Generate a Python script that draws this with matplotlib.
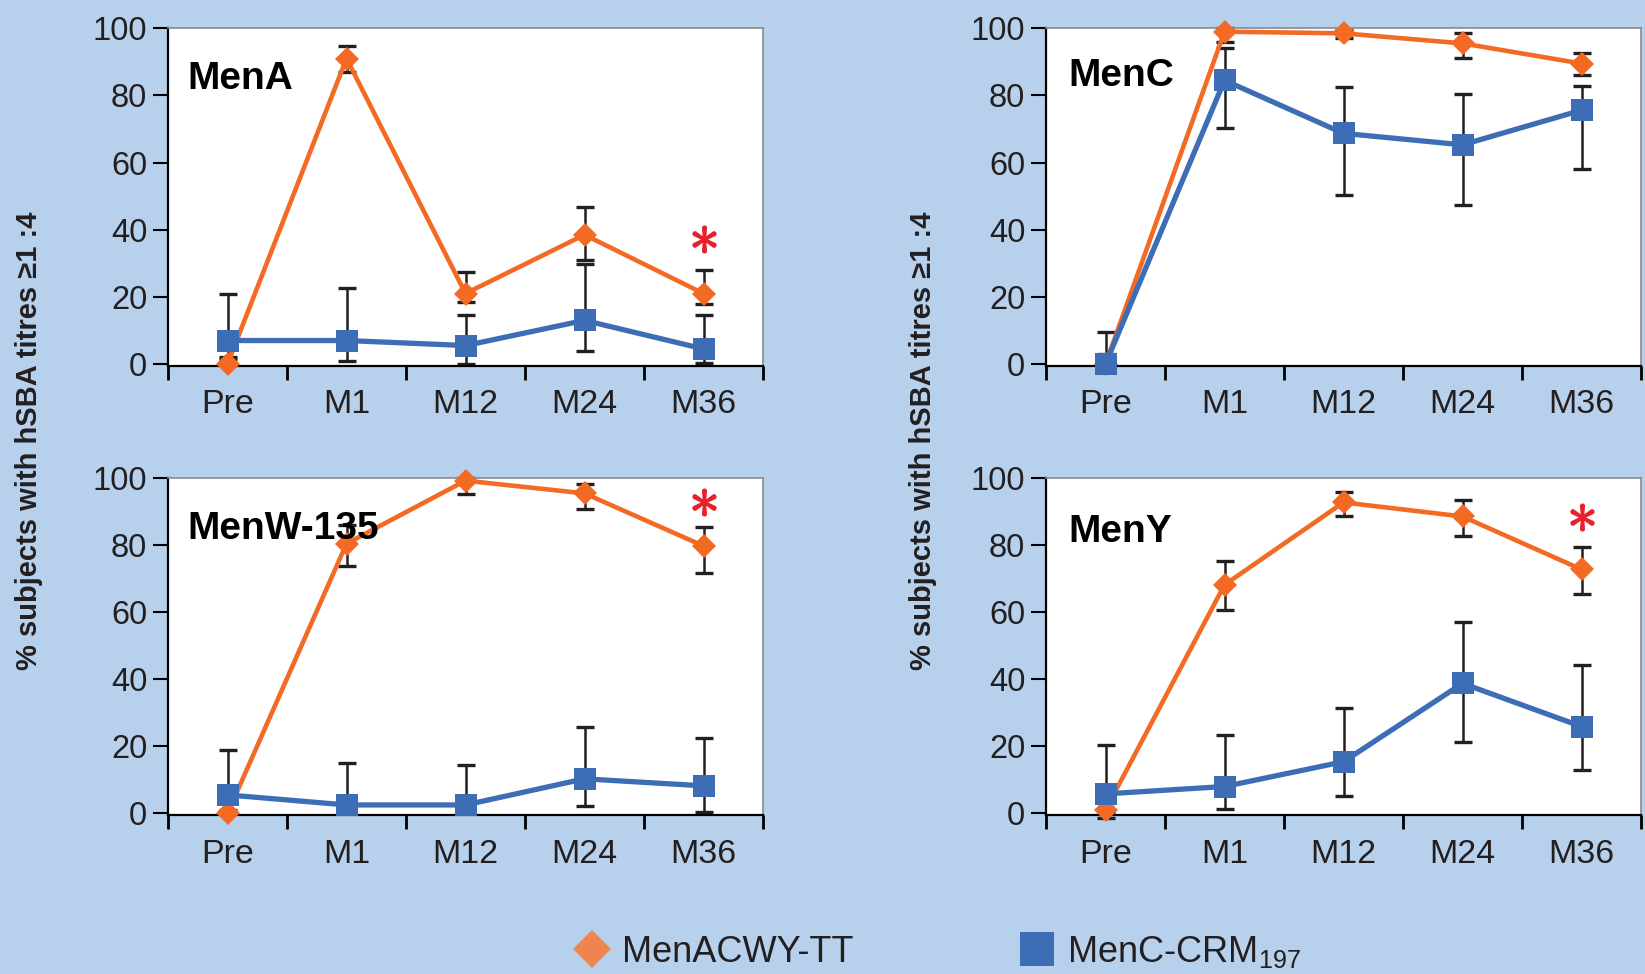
import matplotlib
matplotlib.use("Agg")
import matplotlib.pyplot as plt
from matplotlib.lines import Line2D
import numpy as np

plt.rcParams['font.family'] = ['Liberation Sans', 'DejaVu Sans']
plt.rcParams['mathtext.fontset'] = 'custom'
plt.rcParams['mathtext.rm'] = 'Liberation Sans'
plt.rcParams['mathtext.it'] = 'Liberation Sans:italic'
plt.rcParams['mathtext.bf'] = 'Liberation Sans:bold'

# ---------------- data ----------------
categories = ['Pre', 'M1', 'M12', 'M24', 'M36']
panel_names = ['MenA', 'MenC', 'MenW-135', 'MenY']

# MenACWY-TT (orange)
tt_A = [0, 91, 21, 38.5, 21]
tt_A_lo = [0, 87, 18.5, 31, 18]
tt_A_hi = [1.5, 94.7, 27.5, 46.7, 28]
tt_C = [0, 99, 98.5, 95.5, 89.5]
tt_C_lo = [0, 96, 97, 91.3, 86]
tt_C_hi = [3, 100, 99.5, 98.5, 92.7]
tt_W = [0, 80.5, 99.3, 95.5, 79.8]
tt_W_lo = [0, 73.8, 95.3, 90.7, 71.8]
tt_W_hi = [1, 86, 100, 98.3, 85.4]
tt_Y = [1, 68.2, 92.8, 88.6, 72.8]
tt_Y_lo = [-1.3, 60.7, 88.8, 82.9, 65.5]
tt_Y_hi = [3, 75.4, 95.8, 93.5, 79.4]

# MenC-CRM197 (blue)
crm_A = [7, 7, 5.5, 13, 4.5]
crm_A_lo = [2, 1, 0, 4, 0.3]
crm_A_hi = [21, 22.5, 14.5, 29.7, 14.5]
crm_C = [0, 84.5, 68.7, 65.3, 75.6]
crm_C_lo = [0, 70.3, 50.4, 47.5, 58]
crm_C_hi = [9.5, 94, 82.6, 80.3, 82.8]
crm_W = [5.5, 2.5, 2.5, 10.3, 8.2]
crm_W_lo = [0, 0, 0, 2.2, 0.5]
crm_W_hi = [18.9, 15, 14.3, 25.9, 22.4]
crm_Y = [5.8, 8, 15.4, 38.8, 25.9]
crm_Y_lo = [0, 1.2, 5.2, 21.4, 12.9]
crm_Y_hi = [20.4, 23.4, 31.5, 57.2, 44.3]

# significance star (category index, y value) per panel; None = no star
stars = [(4, 37.2), None, (4, 93), (4, 88.5)]

yticks = [0, 20, 40, 60, 80, 100]
ylabel = '% subjects with hSBA titres \u22651 :4'
legend_labels = ['MenACWY-TT', 'MenC-CRM$_{\\mathregular{197}}$']

tt_series = [(tt_A, tt_A_lo, tt_A_hi), (tt_C, tt_C_lo, tt_C_hi),
             (tt_W, tt_W_lo, tt_W_hi), (tt_Y, tt_Y_lo, tt_Y_hi)]
crm_series = [(crm_A, crm_A_lo, crm_A_hi), (crm_C, crm_C_lo, crm_C_hi),
              (crm_W, crm_W_lo, crm_W_hi), (crm_Y, crm_Y_lo, crm_Y_hi)]

# ---------------- style ----------------
BG = '#B7D1EC'
ORANGE = '#F26A24'
ORANGE_LEG = '#EE8550'
BLUE = '#3D6DB5'
INK = '#231F20'
RED = '#E8202A'

W, H = 1645, 974
fig = plt.figure(figsize=(W / 100, H / 100), dpi=100, facecolor=BG)

def px_rect(left, top, right, bottom):
    return [left / W, 1 - bottom / H, (right - left) / W, (bottom - top) / H]

rects = [px_rect(168, 28.3, 763, 365.7),
         px_rect(1046, 28.3, 1641, 365.7),
         px_rect(168, 478.3, 763, 815.0),
         px_rect(1046, 478.3, 1641, 815.0)]

label_pos = [(0.032, 0.85), (0.038, 0.86), (0.032, 0.85), (0.038, 0.84)]

x = np.arange(len(categories))

for i, rect in enumerate(rects):
    ax = fig.add_axes(rect)
    ax.set_facecolor('white')
    ax.set_xlim(-0.5, len(categories) - 0.5)
    ax.set_ylim(-0.5, 100)

    for (vals, lo, hi), color, lw, mk, ms, z in [
            (crm_series[i], BLUE, 3.8, 's', 16, 4),
            (tt_series[i], ORANGE, 3.3, 'D', 12.3, 3)]:
        v = np.array(vals, float)
        l = np.array(lo, float)
        h = np.array(hi, float)
        ax.errorbar(x, v, yerr=[v - l, h - v], fmt='none', ecolor=INK,
                    elinewidth=1.8, capsize=6.5, capthick=2.4, zorder=2,
                    clip_on=False)
        ax.plot(x, v, color=color, lw=lw, marker=mk, ms=ms, mec=color,
                mew=0, zorder=z, clip_on=False)

    if stars[i] is not None:
        sx, sy = stars[i]
        ax.plot([x[sx]], [sy], marker='$\\ast$', ms=19, color=RED, mew=1.2,
                mec=RED, ls='none', zorder=5)

    ax.text(label_pos[i][0], label_pos[i][1], panel_names[i],
            transform=ax.transAxes, fontsize=28, fontweight='bold',
            color='black', ha='left', va='center', zorder=6)

    # spines
    for s in ['left', 'bottom']:
        ax.spines[s].set_color('black')
        ax.spines[s].set_linewidth(1.6)
    for s in ['top', 'right']:
        ax.spines[s].set_color('#8a8a8a')
        ax.spines[s].set_linewidth(1.2)

    ax.set_yticks(yticks)
    ax.set_yticklabels([str(t) for t in yticks])
    ax.tick_params(axis='y', direction='out', length=11, width=1.5,
                   pad=4, labelsize=23.5, colors=INK)
    ax.tick_params(axis='y', color='black')

    ax.set_xticks(np.arange(-0.5, len(categories), 1.0))
    ax.set_xticklabels([])
    ax.tick_params(axis='x', which='major', direction='out', length=10,
                   width=2.0, color='black')
    ax.set_xticks(x, minor=True)
    ax.set_xticklabels(categories, minor=True)
    ax.tick_params(axis='x', which='minor', length=0, pad=17,
                   labelsize=24.5, labelcolor=INK)

# y-axis labels
for cx in [29, 923]:
    fig.text(cx / W, 1 - 441 / H, ylabel, rotation=90, ha='center',
             va='center', fontsize=21, fontweight='bold', color=INK)

# legend (two entries)
handles = [Line2D([], [], ls='none', marker='D', ms=19, color=ORANGE_LEG, mew=0),
           Line2D([], [], ls='none', marker='s', ms=24.5, color=BLUE, mew=0)]
for hdl, lab, cx in zip(handles, legend_labels, [592, 1037]):
    leg = fig.legend([hdl], [lab], loc='center left',
                     bbox_to_anchor=((cx - 18) / W, 1 - 952 / H),
                     frameon=False, fontsize=26, handlelength=1.0,
                     handletextpad=0.33, borderpad=0, borderaxespad=0)
    for t in leg.get_texts():
        t.set_color(INK)

fig.savefig('out.png', dpi=100, facecolor=BG)
